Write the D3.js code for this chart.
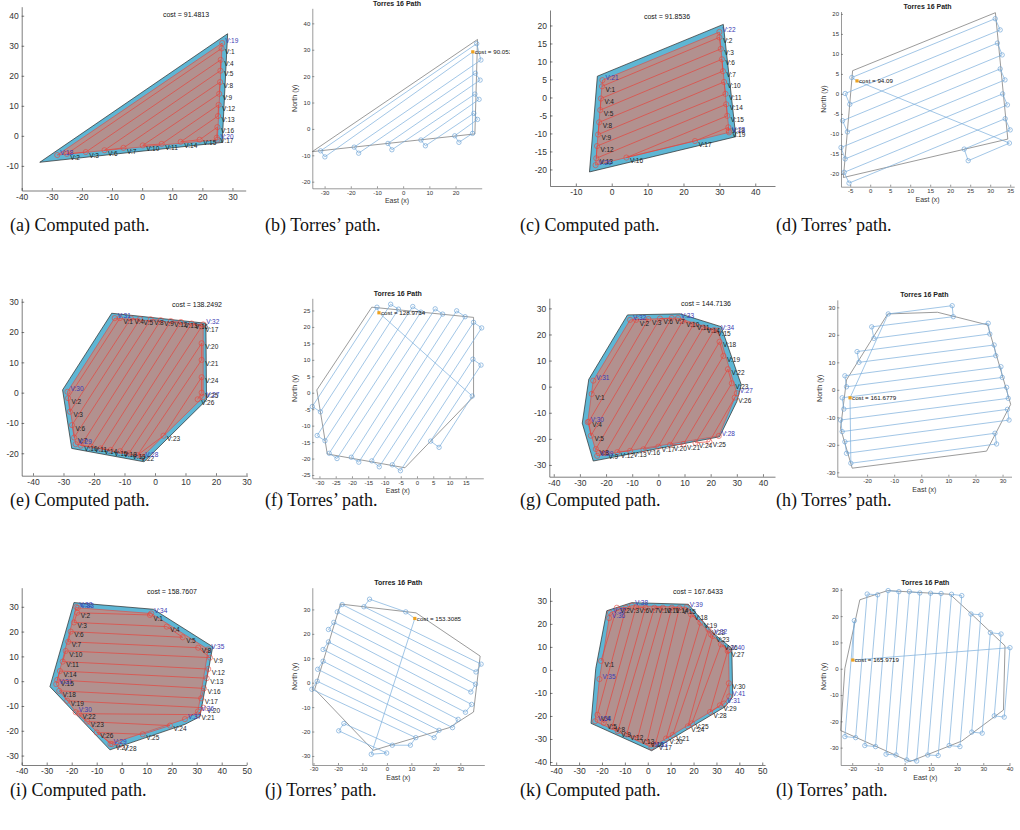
<!DOCTYPE html>
<html lang="en">
<head>
<meta charset="UTF-8">
<title>Computed vs Torres coverage paths</title>
<script src="https://cdn.jsdelivr.net/npm/d3@7"></script>
<style>
  body { margin: 0; background: #fff; }
  .cap { font-family: "Liberation Serif", "Times New Roman", serif; font-size: 18px; fill: #111; }
</style>
</head>
<body>
<svg width="1020" height="830"></svg>
<script>
// ---------- data ----------
// (a) computed
const outerA  = [[28.4,34],[-34,-8.8],[26.6,-2.2]];
const sweepA  = [[26.4,29.1],[-25,-6],[-18.7,-5.4],[26.1,25.3],[26,21.7],[-12.5,-4.8],[-6.2,-4],[25.9,17.9],[25.6,14],[0.2,-3.2],[6.5,-2.7],[25.4,10.3],[25.2,6.6],[12.8,-2],[19.1,-1.3],[25,2.9],[24.8,-0.6]];
const cornerA = [[19,26.6,30.9],[20,25,-1.3],[18,-28.2,-6.4]];
const costA   = "91.4813";
const xTicksA = [-40,-30,-20,-10,0,10,20,30];
const yTicksA = [-10,0,10,20,30,40];

// (b) Torres
const polyB   = [[28.4,33.9],[-34.7,-8.6],[27.4,-1.9]];
const pathB   = [[26.6,29.2],[-29.9,-10.6],[-31.5,-8.3],[28.1,32.3],[29.7,26.1],[-18.7,-6.9],[-17,-9.2],[27.6,21.1],[29.4,18.5],[-5.8,-5.5],[-4.3,-7.9],[27.4,13.2],[29,11.2],[6.8,-4.2],[8.5,-6.4],[27,5.9],[28.4,3.6],[19.7,-2.6],[21.3,-5.1],[26.5,-1.7]];
const costB   = "90.0532";
const xTicksB = [-30,-20,-10,0,10,20];
const yTicksB = [-20,-10,0,10,20,30,40];

// (c) computed
const outerC  = [[-4,5.9],[31.1,20.3],[34.6,-10.9],[-6.2,-20.7]];
const sweepC  = [[-2.7,3.1],[30,16.7],[30.4,13.5],[-3,-0.3],[-3.2,-3.5],[30.7,10.6],[31,7.3],[-3.5,-6.9],[-3.8,-10.3],[31.3,4.3],[31.7,1],[-4.1,-13.5],[-4.3,-16.9],[31.9,-1.9],[32.2,-5.1],[4.1,-16.7],[23.2,-12.1],[32.5,-8.3],[32.6,-9.3]];
const cornerC = [[21,-2.6,4.8],[22,30,18.2],[23,32.7,-9.7],[20,-4.5,-18.8]];
const costC   = "91.8536";
const xTicksC = [-10,0,10,20,30,40];
const yTicksC = [-20,-15,-10,-5,0,5,10,15,20];

// (d) Torres
const polyD   = [[-4.4,5.8],[31.3,20.3],[34.4,-11.3],[-6.7,-20.9]];
const pathD   = [[-3.3,3.25],[-4.6,4.1],[31.25,18.8],[32.5,16],[-6.25,0.1],[-5.1,-2.6],[31.8,12.7],[33,9.75],[-6.9,-6.7],[-5.7,-9.5],[32.5,6.25],[33.7,3.5],[-7.3,-13.4],[-6.25,-16.25],[33.1,0],[34.3,-2.75],[-6.5,-19.6],[-5.3,-22.3],[33.75,-6.2],[35,-9],[23.5,-13.8],[24.5,-16.7],[34.8,-12.3]];
const costD   = "94.09";
const xTicksD = [-5,0,5,10,15,20,25,30,35];
const yTicksD = [-20,-15,-10,-5,0,5,10,15,20];

// (e) computed
const outerE  = [[-14.2,26.2],[16.7,22.9],[16.9,-2.4],[-3.6,-22.8],[-27.3,-18.4],[-30.3,0.9]];
const sweepE  = [[-11.5,24.6],[-28.5,-1.8],[-27.9,-6.3],[-7.9,24.5],[-4.9,24.3],[-27.2,-10.7],[-26.5,-14.8],[-1.4,24.2],[1.9,23.9],[-24.3,-17.5],[-21,-17.8],[5.2,23.6],[8.5,23.3],[-17.8,-18.4],[-14.5,-18.9],[12,22.8],[15.3,21.8],[-11.4,-19.3],[-8.5,-20],[15.3,16.3],[15.3,10.8],[-5.7,-20.6],[2.8,-14.2],[15.3,5.1],[15.3,0],[14,-2.2]];
const cornerE = [[31,-13.2,24.6],[32,15.8,22.5],[27,15.8,-1.5],[28,-4.2,-21.2],[29,-26,-17],[30,-28.7,0.3]];
const costE   = "138.2492";
const xTicksE = [-40,-30,-20,-10,0,10,20,30];
const yTicksE = [-20,-10,0,10,20,30];

// (f) Torres
const polyF   = [[-13.9,26],[17.4,22.9],[17.4,-1.2],[-3.7,-22.8],[-27.6,-18.6],[-30.8,0.85]];
const pathF   = [[-11.7,24.3],[-12.3,26],[-32.2,-4.2],[-29.7,-5.8],[-8.1,26.9],[-5.7,25.4],[-30.7,-13],[-28.3,-14.6],[-1.3,26.2],[1.2,24.5],[-27,-18.4],[-24.6,-20],[5.6,25.5],[7.9,23.9],[-20.2,-19.6],[-17.9,-21.1],[12.2,24.9],[14.8,23.1],[-13.9,-20.7],[-11.6,-22.5],[17.4,21.4],[19.9,19.7],[-7.6,-21.9],[-5.1,-23.7],[17.2,10.2],[19.7,8.4],[4.2,-14.7],[6.8,-16.6],[17,-1]];
const costF   = "128.9734";
const xTicksF = [-30,-25,-20,-15,-10,-5,0,5,10,15];
const yTicksF = [-25,-20,-15,-10,-5,0,5,10,15,20,25];

// (g) computed
const outerG  = [[-11.8,27.5],[8.3,27.9],[24,23],[31.7,0.7],[30,-5.7],[23.4,-19.2],[-24.9,-28.5],[-29.1,-14],[-26.6,2.8]];
const sweepG  = [[-25.5,-2.8],[-8.5,25.6],[-3.8,25.9],[-26.6,-13.4],[-25.8,-18.8],[0.6,26.1],[5.1,26.3],[-23.9,-23.9],[-20.4,-25.5],[9.3,25.2],[13.4,23.8],[-15.7,-25.1],[-10.8,-24.6],[17.2,22.7],[21.3,21.7],[-5.7,-24],[0,-23],[23.4,17.2],[24.9,11.8],[4.5,-22.3],[9.6,-22],[26.6,6.7],[28.1,1.3],[14.2,-21.5],[19.5,-21.1],[29.2,-4.2]];
const cornerG = [[32,-10.8,25.6],[33,7.5,26.3],[34,22.8,21.5],[27,30,-2.5],[28,23.1,-18.9],[29,-23.4,-26.5],[30,-27,-13.6],[31,-24.9,2.3]];
const costG   = "144.7136";
const xTicksG = [-40,-30,-20,-10,0,10,20,30,40];
const yTicksG = [-30,-20,-10,0,10,20,30];

// (h) Torres
const polyH   = [[-12.4,27.6],[6,28.2],[24.5,23.6],[33,-5.3],[24.1,-22.3],[-25.5,-28.5],[-29.8,-14],[-27.6,3.6]];
const pathH   = [[-26.3,-2.9],[-12.2,27.6],[11.4,30.6],[11.8,26.6],[-18.3,22.9],[-17.5,18.7],[24.7,24.2],[25.3,20.3],[-23.7,13.9],[-23,10],[26.9,16.3],[27.5,12.4],[-28.2,5.1],[-27.6,1.1],[29.4,8.4],[29.9,4.5],[-29.2,-2.9],[-28.6,-7],[31.5,0.9],[32.1,-3.1],[-29.8,-11],[-29.2,-15.2],[31.8,-7.1],[32.4,-11],[-28.2,-18.9],[-27.6,-23.1],[27.2,-15.8],[27.8,-19.7],[-26,-26.7]];
const costH   = "161.6779";
const xTicksH = [-20,-10,0,10,20,30];
const yTicksH = [-30,-20,-10,0,10,20,30];

// (i) computed
const outerI  = [[-19.1,31.7],[12.7,29],[36.4,13.9],[31.3,-14.3],[25.3,-17.4],[-4.7,-27.7],[-28.7,-2.2]];
const sweepI  = [[11.3,26.7],[-17.8,27.6],[-19.1,23.7],[18,22],[24.4,17.7],[-20.4,20],[-21.4,15.9],[30.6,13.5],[35.3,9.5],[-22.4,12.2],[-23.6,7.9],[34.6,4.9],[34,1.2],[-24.7,4.1],[-25.8,0.5],[32.9,-2.9],[31.8,-6.9],[-25,-3.9],[-21.8,-7.9],[32.7,-10.7],[30.5,-13.5],[-17.1,-13.1],[-13.8,-16.3],[19.3,-17.9],[8.4,-21.4],[-10,-20.7],[-3.8,-25.4],[-0.7,-25.7]];
const cornerI = [[33,-17.6,29.6],[34,11.8,27.3],[35,34.6,12.8],[36,30.5,-12.2],[37,25.3,-15.3],[29,-4.5,-25.3],[30,-18.4,-12.5],[31,-26.2,-1.2],[32,-18.2,29.9]];
const costI   = "158.7607";
const xTicksI = [-40,-30,-20,-10,0,10,20,30,40,50];
const yTicksI = [-30,-20,-10,0,10,20,30];

// (j) Torres
const polyJ   = [[-19,32.2],[11.9,28.6],[38.1,10.9],[35.4,-12],[25.5,-18.4],[-5.6,-27.7],[-29.5,-2.7]];
const pathJ   = [[11.4,26.3],[7.7,29],[-7.1,34.2],[-9.4,31.1],[38.5,7.6],[36.4,4.4],[-18.3,32],[-20.3,29],[36.2,-0.6],[34.3,-3.8],[-21.7,24.7],[-23.9,21.8],[34.6,-8.9],[32.1,-12.1],[-23.9,16.7],[-26.1,13.6],[29.1,-15],[26.8,-18.4],[-26.1,8.8],[-28.3,5.5],[21.3,-19.5],[19.3,-22.5],[-28.5,0.6],[-30.7,-2.7],[11.8,-22.5],[9.6,-25.6],[2.2,-25.6],[-17.6,-16.7],[-19.7,-19.7],[-0.1,-28.8],[-6.4,-29.3]];
const costJ   = "153.3085";
const xTicksJ = [-30,-20,-10,0,10,20,30];
const yTicksJ = [-30,-20,-10,0,10,20,30];

// (k) computed
const outerK  = [[-17.9,25.7],[-7,29.2],[17.7,28.5],[28.6,15.9],[36.7,9.4],[37.1,-11.7],[33.8,-16],[1.7,-35.1],[-24.8,-23.2],[-22.7,0.7]];
const sweepK  = [[-20.4,3.9],[-13.5,27],[-9.5,27],[-22,-19.5],[-19.2,-23],[-5.1,27.3],[-1,27],[-15.6,-24.7],[-13.1,-26.6],[2.9,27],[6.6,27],[-9.2,-28],[-4.4,-29.5],[10.5,27],[13.8,26.9],[-0.3,-31.2],[3.3,-32.3],[18.9,24.1],[23,20.5],[8,-29.8],[10.9,-28.3],[26.5,17.6],[28.4,14.7],[17.5,-24.5],[19.3,-23.2],[32,11.1],[34.9,8.2],[27.2,-18.3],[31.5,-15.4],[35.4,-5.8]];
const cornerK = [[37,-16.5,24.8],[38,-6.9,27.9],[39,17,27.2],[32,27.6,15.4],[40,35.3,8.6],[41,35.6,-11.5],[31,33.4,-14.6],[33,1.6,-33.6],[34,-23,-22.3],[35,-21.1,-4],[36,-16.9,22.5]];
const costK   = "167.6433";
const xTicksK = [-40,-30,-20,-10,0,10,20,30,40,50];
const yTicksK = [-40,-30,-20,-10,0,10,20,30];

// (l) Torres
const polyL   = [[-17.1,26.2],[-6.5,29.7],[17.3,28.3],[25.6,20.7],[38.3,8.7],[37.7,-15.7],[21.8,-27.5],[2,-35.3],[-24.4,-23.5],[-22.8,0.2]];
const pathL   = [[-19.8,3.3],[-19.2,18.3],[-22.8,-25.8],[-18.7,-26.2],[-14.3,28.4],[-10.3,28.1],[-15.2,-29.2],[-11.1,-29.6],[-6.3,29.7],[-2.2,29.3],[-7.1,-32.5],[-3.3,-32.8],[1.8,29.3],[5.8,28.8],[0.8,-34.7],[4.6,-35.1],[9.9,28.7],[13.9,28.6],[8.8,-32.8],[12.8,-33],[17.9,28.3],[21.8,27.8],[17,-29.2],[21.1,-29.6],[25.3,20.8],[29.1,20.5],[25.6,-24.1],[29.6,-24.5],[32.7,13.7],[36.8,13.2],[34.2,-17.9],[38,-18.4],[40.2,8]];
const costL   = "165.9719";
const xTicksL = [-20,-10,0,10,20,30,40];
const yTicksL = [-30,-20,-10,0,10,20,30];

const captions = ["(a) Computed path.","(b) Torres\u2019 path.","(c) Computed path.","(d) Torres\u2019 path.",
                  "(e) Computed path.","(f) Torres\u2019 path.","(g) Computed path.","(h) Torres\u2019 path.",
                  "(i) Computed path.","(j) Torres\u2019 path.","(k) Computed path.","(l) Torres\u2019 path."];

// ---------- layout (pixel boxes of each axes) ----------
const computed = [
  {outer:outerA, sweep:sweepA, corners:cornerA, cost:costA, xt:xTicksA, yt:yTicksA, l:21.7, r:245.7, t:6.7,   b:190.5, xd:[-40,34.4],  yd:[-18.2,43],  costAt:[186,15]},
  {outer:outerC, sweep:sweepC, corners:cornerC, cost:costC, xt:xTicksC, yt:yTicksC, l:550,  r:775,   t:10,    b:186,   xd:[-17.2,45.5], yd:[-24.6,24.3], costAt:[667,17]},
  {outer:outerE, sweep:sweepE, corners:cornerE, cost:costE, xt:xTicksE, yt:yTicksE, l:21.7, r:247.4, t:298.4, b:475.7, xd:[-43.7,30.3], yd:[-27.4,31.1], costAt:[197,305]},
  {outer:outerG, sweep:sweepG, corners:cornerG, cost:costG, xt:xTicksG, yt:yTicksG, l:549.3,r:775,   t:298.2, b:476.7, xd:[-41.7,44.6], yd:[-34.5,33.9], costAt:[706,304]},
  {outer:outerI, sweep:sweepI, corners:cornerI, cost:costI, xt:xTicksI, yt:yTicksI, l:21.7, r:246.7, t:587.7, b:765,   xd:[-40,50],     yd:[-33.8,37.7], costAt:[172,592]},
  {outer:outerK, sweep:sweepK, corners:cornerK, cost:costK, xt:xTicksK, yt:yTicksK, l:550,  r:765,   t:587.7, b:765,   xd:[-42.7,51.2], yd:[-41.3,35.7], costAt:[698,592]}
];
const torres = [
  {poly:polyB, path:pathB, cost:costB, xt:xTicksB, yt:yTicksB, l:312.3, r:481.7,  t:8.3,   b:188.3, xd:[-34.7,30],   yd:[-22.5,45.7], clip:[255,510]},
  {poly:polyD, path:pathD, cost:costD, xt:xTicksD, yt:yTicksD, l:841,   r:1014.2, t:11.5,  b:186.7, xd:[-7.3,36],    yd:[-23.2,20.6], clip:[765,1020]},
  {poly:polyF, path:pathF, cost:costF, xt:xTicksF, yt:yTicksF, l:312.3, r:483.3,  t:298.3, b:478.3, xd:[-32.2,20.4], yd:[-26,28.7],   clip:[255,510]},
  {poly:polyH, path:pathH, cost:costH, xt:xTicksH, yt:yTicksH, l:837.3, r:1011.5, t:299.9, b:476.7, xd:[-31,33.3],   yd:[-31.6,32.7], clip:[765,1020]},
  {poly:polyJ, path:pathJ, cost:costJ, xt:xTicksJ, yt:yTicksJ, l:312.3, r:484.3,  t:587.7, b:765,   xd:[-30.5,39.8], yd:[-33.7,38.9], clip:[255,510]},
  {poly:polyL, path:pathL, cost:costL, xt:xTicksL, yt:yTicksL, l:840.7, r:1010,   t:587.7, b:765,   xd:[-24.4,40.2], yd:[-36.6,30.8], clip:[765,1020]}
];
const capX = [10, 265, 520, 776];
const capY = [231, 506, 796];

// ---------- drawing ----------
const svg = d3.select("svg");
const sans = "'Liberation Sans', Arial, sans-serif";

function drawAxes(g, x, y, p, o) {
  const ax = g.append("g").attr("transform", `translate(0,${p.b})`)
    .call(d3.axisBottom(x).tickValues(p.xt).tickFormat(d => String(d))
      .tickSizeInner(-o.tick).tickSizeOuter(0).tickPadding(o.pad));
  const ay = g.append("g").attr("transform", `translate(${p.l},0)`)
    .call(d3.axisLeft(y).tickValues(p.yt).tickFormat(d => String(d))
      .tickSizeInner(-o.tick).tickSizeOuter(0).tickPadding(o.pad));
  [ax, ay].forEach(a => {
    a.attr("font-family", sans).attr("font-size", o.fs);
    a.selectAll("path, line").attr("stroke", o.col).attr("stroke-width", 0.6);
    a.selectAll("text").attr("fill", o.txt);
  });
}

computed.forEach(p => {
  const x = d3.scaleLinear().domain(p.xd).range([p.l, p.r]);
  const y = d3.scaleLinear().domain(p.yd).range([p.b, p.t]);
  const line = d3.line().x(d => x(d[0])).y(d => y(d[1]));
  const g = svg.append("g");
  const inner = p.corners.map(c => [c[1], c[2]]);

  g.append("path").attr("d", line(p.outer) + "Z")
    .attr("fill", "#5eb6d4").attr("stroke", "#2b2b2b").attr("stroke-width", 0.7);
  g.append("path").attr("d", line(inner) + "Z")
    .attr("fill", "#b2918f").attr("stroke", "#e0463f").attr("stroke-width", 0.6);
  g.append("path").attr("d", line(p.sweep))
    .attr("fill", "none").attr("stroke", "#e5453d").attr("stroke-width", 0.7);

  const pts = p.sweep.concat(inner);
  g.selectAll("circle.v").data(pts).join("circle")
    .attr("cx", d => x(d[0])).attr("cy", d => y(d[1])).attr("r", 2.6)
    .attr("fill", "none").attr("stroke", "#e5453d").attr("stroke-width", 0.6);

  g.selectAll("text.v").data(p.sweep).join("text")
    .attr("x", d => x(d[0]) + 3.5).attr("y", d => y(d[1]) + 4)
    .attr("dominant-baseline", "middle")
    .attr("font-family", sans).attr("font-size", 6.5).attr("fill", "#1c1c1c")
    .text((d, i) => "V:" + (i + 1));
  g.selectAll("text.c").data(p.corners).join("text")
    .attr("x", d => x(d[1]) + 3).attr("y", d => y(d[2]) - 2)
    .attr("dominant-baseline", "middle")
    .attr("font-family", sans).attr("font-size", 6.5).attr("fill", "#3b3bb3")
    .text(d => "V:" + d[0]);

  drawAxes(g, x, y, p, {tick: 2.5, pad: 3, fs: 8.5, col: "#262626", txt: "#333"});

  g.append("text").attr("x", p.costAt[0]).attr("y", p.costAt[1])
    .attr("text-anchor", "middle").attr("dominant-baseline", "middle")
    .attr("font-family", sans).attr("font-size", 7).attr("fill", "#111")
    .text("cost = " + p.cost);
});

torres.forEach((p, k) => {
  const x = d3.scaleLinear().domain(p.xd).range([p.l, p.r]);
  const y = d3.scaleLinear().domain(p.yd).range([p.b, p.t]);
  const line = d3.line().x(d => x(d[0])).y(d => y(d[1]));
  const id = "clipT" + k;
  svg.append("clipPath").attr("id", id).append("rect")
    .attr("x", p.clip[0]).attr("y", p.t - 12).attr("width", p.clip[1] - p.clip[0]).attr("height", p.b - p.t + 30);
  const g = svg.append("g").attr("clip-path", `url(#${id})`);

  g.append("path").attr("d", line(p.poly) + "Z")
    .attr("fill", "none").attr("stroke", "#707070").attr("stroke-width", 0.7);
  g.append("path").attr("d", line(p.path) + "Z")
    .attr("fill", "none").attr("stroke", "#7aaedb").attr("stroke-width", 0.7);
  g.selectAll("circle.w").data(p.path.slice(1)).join("circle")
    .attr("cx", d => x(d[0])).attr("cy", d => y(d[1])).attr("r", 2.2)
    .attr("fill", "none").attr("stroke", "#5f9bd2").attr("stroke-width", 0.6);

  const s = p.path[0];
  g.append("rect").attr("x", x(s[0]) - 1.6).attr("y", y(s[1]) - 1.6)
    .attr("width", 3.2).attr("height", 3.2).attr("fill", "#eea21f");
  g.append("text").attr("x", x(s[0]) + 2).attr("y", y(s[1]) + 0.5)
    .attr("dominant-baseline", "middle")
    .attr("font-family", sans).attr("font-size", 6.2).attr("fill", "#111")
    .text("cost = " + p.cost);

  drawAxes(g, x, y, p, {tick: 2, pad: 2, fs: 6, col: "#555", txt: "#333"});

  const cx = (p.l + p.r) / 2;
  g.append("text").attr("x", cx).attr("y", p.t - 2.5)
    .attr("text-anchor", "middle").attr("font-family", sans)
    .attr("font-size", 7).attr("font-weight", "bold").attr("fill", "#222")
    .text("Torres 16 Path");
  g.append("text").attr("x", cx).attr("y", p.b + 13)
    .attr("text-anchor", "middle").attr("dominant-baseline", "middle")
    .attr("font-family", sans).attr("font-size", 7).attr("fill", "#333")
    .text("East (x)");
  g.append("text")
    .attr("transform", `translate(${p.l - 17},${(p.t + p.b) / 2}) rotate(-90)`)
    .attr("text-anchor", "middle").attr("dominant-baseline", "middle")
    .attr("font-family", sans).attr("font-size", 7).attr("fill", "#333")
    .text("North (y)");
});

// captions
svg.selectAll("text.cap").data(captions).join("text")
  .attr("class", "cap")
  .attr("x", (d, i) => capX[i % 4])
  .attr("y", (d, i) => capY[Math.floor(i / 4)])
  .text(d => d);
</script>
</body>
</html>
